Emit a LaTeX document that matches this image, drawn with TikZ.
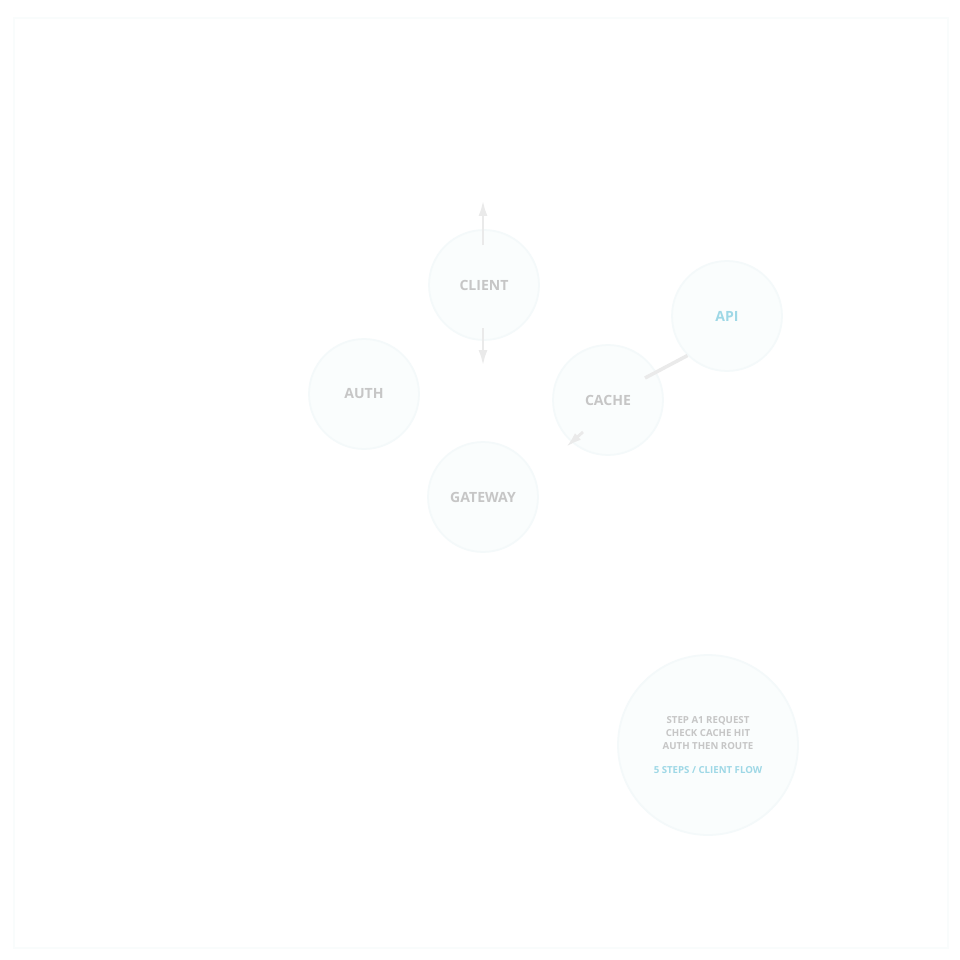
\documentclass[tikz,border=0pt]{standalone}
\usepackage{fontspec}
\setmainfont{Open Sans}
\usepackage{tikz}
\usetikzlibrary{arrows.meta, positioning}
\definecolor{faintfill}{HTML}{FAFDFD}
\definecolor{faintline}{HTML}{F4F9FA}
\definecolor{labelgray}{HTML}{C6C6C6}
\definecolor{faintgray}{HTML}{EAEAEA}
\definecolor{labelcyan}{HTML}{9ED8E6}
\tikzset{
	svc/.style={circle, minimum size=2.2cm, fill=faintfill, draw=faintline, line width=1pt,
		text=labelgray, font=\fontsize{8}{9}\selectfont\bfseries},
	flow/.style={draw=faintgray, line width=1.6pt, -{Latex[length=9pt,width=5pt]}},
}
\begin{document}
\begin{tikzpicture}[x=0.02cm, y=-0.02cm]
		% 画布
		\useasboundingbox (0,0) rectangle (960,960);
		\fill[white] (0,0) rectangle (960,960);
		\draw[faintline!50, line width=1.5pt] (14,18) rectangle (948,948);
		
		% 服务节点
		\node[svc] (client) at (484,285) {CLIENT};
		\node[svc] (auth) at (364,394) {AUTH};
		\node[svc] (cache) at (608,400) {CACHE};
		\node[svc] (gateway) at (483,497) {GATEWAY};
		\node[svc, text=labelcyan] (api) at (727,316) {API};
		
		% 连线
		\coordinate (top) at (483,200);
		\coordinate (low) at (483,366);
		\draw[flow] (483,245) -- (top);
		\draw[flow] (483,328) -- (low);
		\draw[faintgray, line width=2pt] (645,378) -- (api.south west);
		\draw[flow] (583,432) -- (566,447);
		
		% 说明
		\node[circle, minimum size=3.6cm, fill=faintfill, draw=faintline, line width=1pt,
		align=center, font=\fontsize{5.5}{7.5}\selectfont\bfseries, text=labelgray] (note) at (708,745) {
			STEP A1 REQUEST\\
			CHECK CACHE HIT\\
			AUTH THEN ROUTE\\[6pt]
			\textcolor{labelcyan}{5 STEPS / CLIENT FLOW}
		};
	\end{tikzpicture}
\end{document}
